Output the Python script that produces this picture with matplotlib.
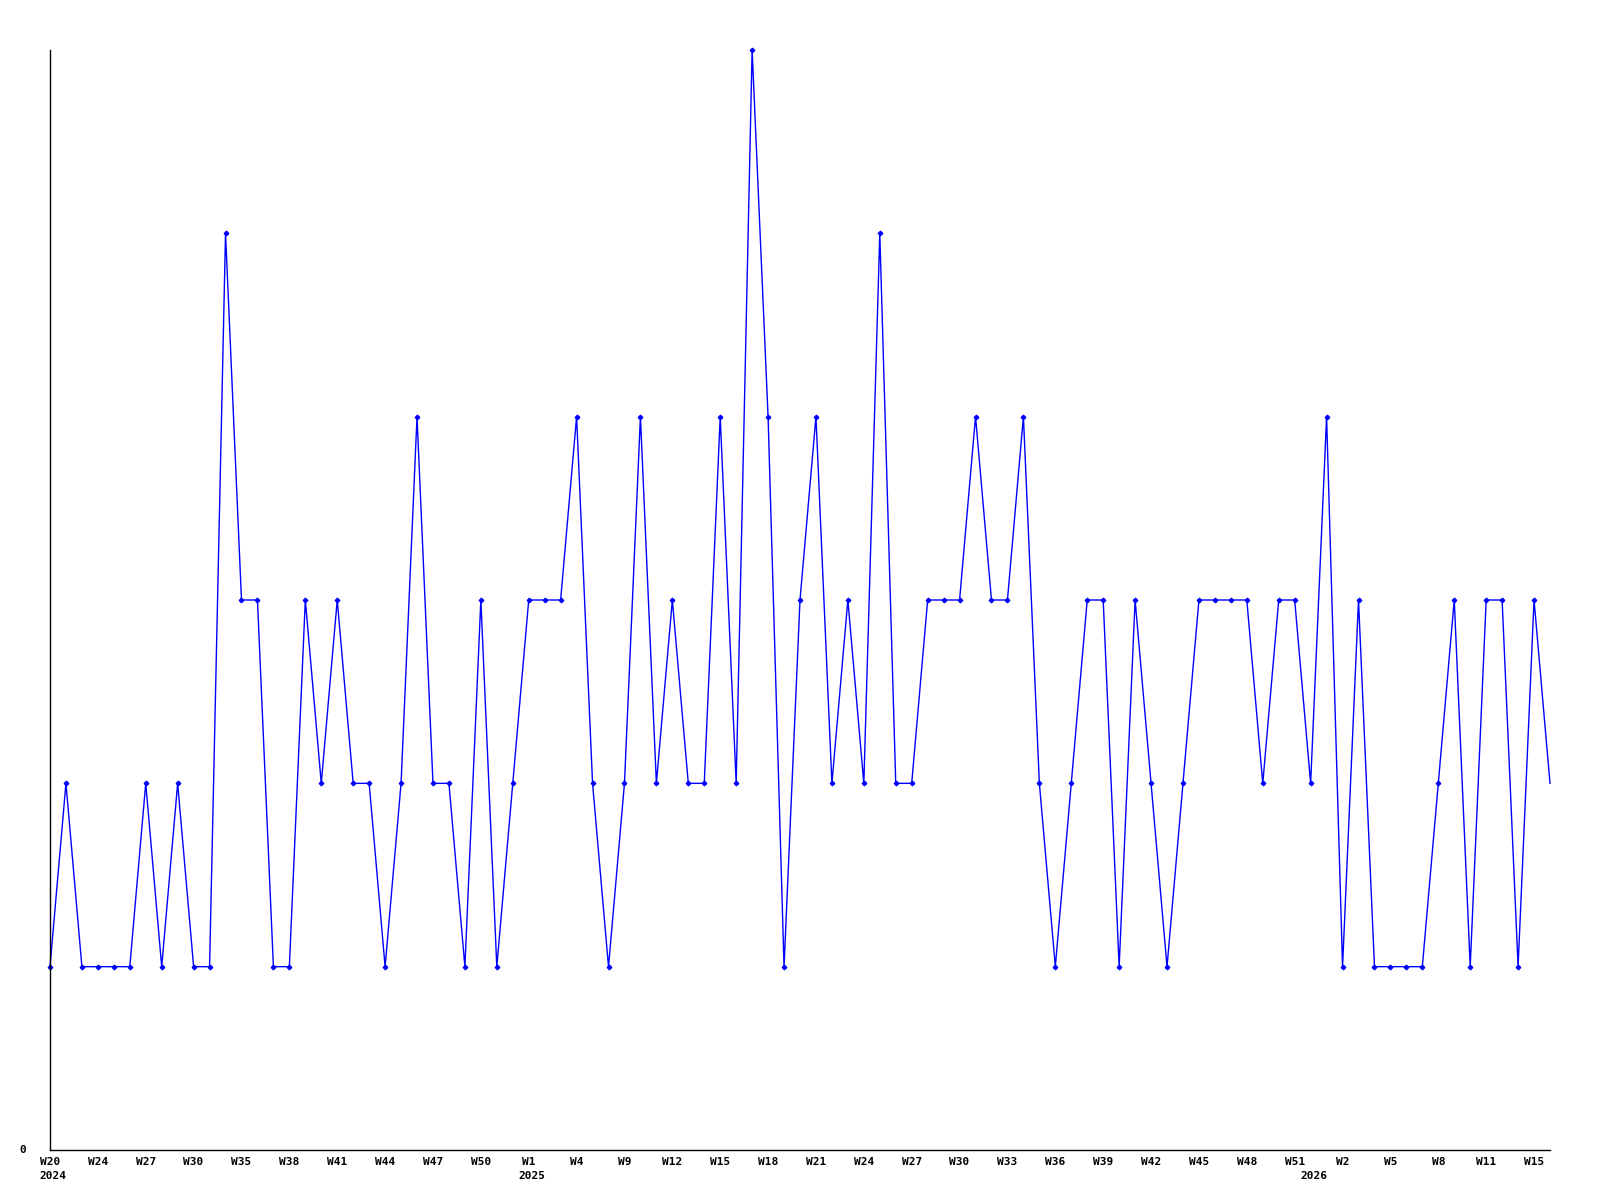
import matplotlib
matplotlib.use("Agg")
import matplotlib.pyplot as plt
import matplotlib.transforms as mtransforms

# weekly counts, one value per point (categorical x axis)
values = [
    1, 2, 1, 1, 1, 1, 2, 1, 2, 1,
    1, 5, 3, 3, 1, 1, 3, 2, 3, 2,
    2, 1, 2, 4, 2, 2, 1, 3, 1, 2,
    3, 3, 3, 4, 2, 1, 2, 4, 2, 3,
    2, 2, 4, 2, 6, 4, 1, 3, 4, 2,
    3, 2, 5, 2, 2, 3, 3, 3, 4, 3,
    3, 4, 2, 1, 2, 3, 3, 1, 3, 2,
    1, 2, 3, 3, 3, 3, 2, 3, 3, 2,
    4, 1, 3, 1, 1, 1, 1, 2, 3, 1,
    3, 3, 1, 3, 2,
]

week_labels = [
    "W20", "W24", "W27", "W30", "W35", "W38", "W41", "W44", "W47", "W50",
    "W1", "W4", "W9", "W12", "W15", "W18", "W21", "W24", "W27", "W30",
    "W33", "W36", "W39", "W42", "W45", "W48", "W51", "W2", "W5", "W8",
    "W11", "W15",
]
label_step = 3

year_idx = [0, 30, 79]
year_text = ["2024", "2025", "2026"]

FONT = dict(family="DejaVu Sans Mono", weight="bold", size=8)

fig = plt.figure(figsize=(16, 12), dpi=100)
ax = fig.add_axes([50 / 1600, 50 / 1200, 1500 / 1600, 1100 / 1200])

xs = list(range(len(values)))
# the last (current, partial) week is drawn without a marker
ax.plot(xs, values, color="#0000ff", linewidth=1.0, marker="D",
        markersize=2.3, markerfacecolor="#0000ff", markeredgecolor="#0000ff",
        markevery=list(range(len(values) - 1)), clip_on=False)

ax.set_xlim(0, len(values) - 1)
ax.set_ylim(0, 6)

for s in ["top", "right"]:
    ax.spines[s].set_visible(False)
for s in ["left", "bottom"]:
    ax.spines[s].set_color("black")
    ax.spines[s].set_linewidth(1.0)

ax.set_xticks([i * label_step for i in range(len(week_labels))])
ax.set_xticklabels(week_labels, fontdict=FONT)
ax.tick_params(axis="x", length=0, pad=5)

ax.set_yticks([0])
ax.set_yticklabels(["0"], fontdict=FONT)
ax.tick_params(axis="y", length=0, pad=17)
for t in ax.get_yticklabels():
    t.set_verticalalignment("center")

trans = mtransforms.blended_transform_factory(ax.transData, ax.transAxes)
for i, yr in zip(year_idx, year_text):
    ax.annotate(yr, xy=(i, 0), xycoords=trans, xytext=(2, -15),
                textcoords="offset points", ha="center", va="top",
                fontfamily=FONT["family"], fontweight="bold",
                fontsize=FONT["size"])

fig.savefig("out.png", dpi=100, facecolor="white")
